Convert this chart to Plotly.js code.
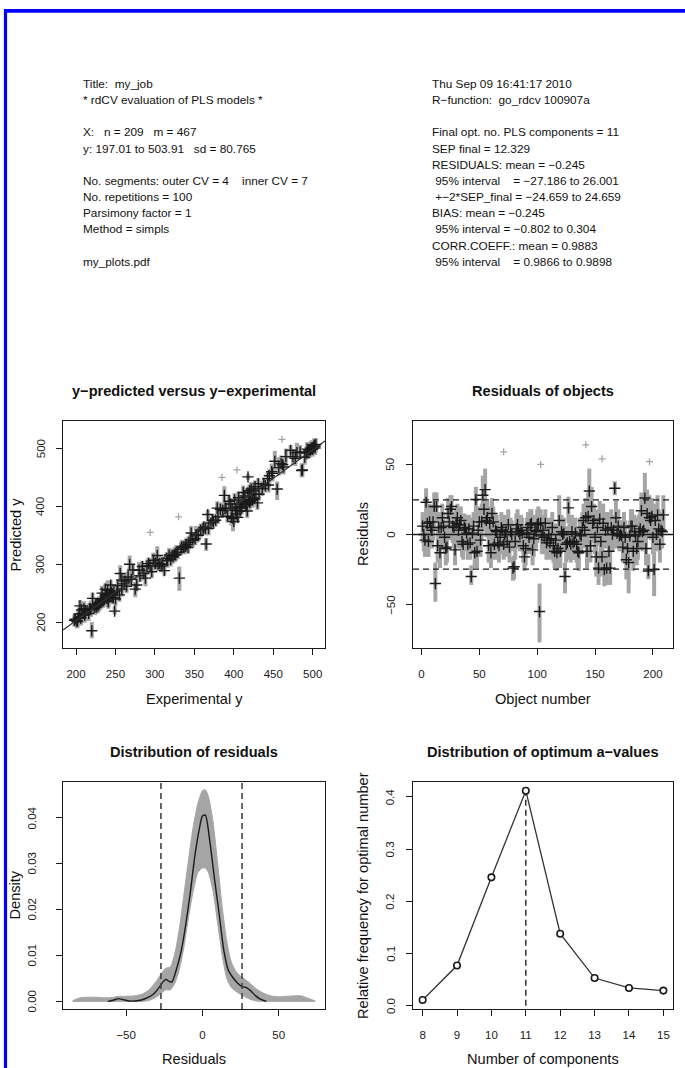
<!DOCTYPE html>
<html><head><meta charset="utf-8">
<script src="https://cdn.plot.ly/plotly-3.0.1.min.js"></script>
<style>html,body{margin:0;padding:0;background:#fff;}#chart{width:685px;height:1068px;}</style>
</head><body><div id="chart"></div>
<script>
// ---------------- text blocks ----------------
const leftLines = ["Title:  my_job", "* rdCV evaluation of PLS models *", "", "X:   n = 209   m = 467", "y: 197.01 to 503.91   sd = 80.765", "", "No. segments: outer CV = 4    inner CV = 7", "No. repetitions = 100", "Parsimony factor = 1", "Method = simpls", "", "my_plots.pdf"];
const rightLines = ["Thu Sep 09 16:41:17 2010", "R\u2212function:  go_rdcv 100907a", "", "Final opt. no. PLS components = 11", "SEP final = 12.329", "RESIDUALS: mean = \u22120.245", " 95% interval    = \u221227.186 to 26.001", " +\u22122*SEP_final = \u221224.659 to 24.659", "BIAS: mean = \u22120.245", " 95% interval = \u22120.802 to 0.304", "CORR.COEFF.: mean = 0.9883", " 95% interval    = 0.9866 to 0.9898"];
const panelTitles = ["y\u2212predicted versus y\u2212experimental", "Residuals of objects", "Distribution of residuals", "Distribution of optimum a\u2212values"];
const xTitles = ["Experimental y", "Object number", "Residuals", "Number of components"];
const yTitles = ["Predicted y", "Residuals", "Density", "Relative frequency for optimal number"];

// ---------------- data ----------------
const sep2 = 24.659;                 // +-2*SEP_final
const resInterval = [-27.186, 26.001]; // 95% interval of residuals

// mean residual of each object (object 1..209)
const resMean = [6,0,-4,23,8,-5,9,5,3,9,
 20,-35,20,-8,5,-13,5,12,6,-2,
 -10,-9,15,9,18,20,6,5,-11,8,
 12,3,7,10,-5,-7,5,4,1,-7,
 4,-6,-30,1,6,-13,25,-12,3,9,
 -4,9,28,18,32,10,12,-8,8,-13,
 15,9,-7,3,2,-6,-8,-2,5,3,
 -7,0,2,-5,7,-9,2,0,-24,-23,
 -5,4,7,2,0,3,1,-8,-16,-10,
 1,5,-2,7,8,-11,-3,3,2,7,
 8,-55,8,-1,3,-2,8,-6,-4,0,
 -6,-3,5,-8,-12,-4,-13,-10,10,-12,
 2,0,1,-30,-7,-6,19,-5,-7,2,
 -6,-5,1,-7,-12,-13,0,-1,5,10,
 3,12,-12,13,31,-8,20,8,10,-2,
 -16,5,-24,11,-5,-16,8,-25,3,-24,
 4,-12,-24,5,0,3,33,12,1,6,
 -1,0,-1,-9,5,-2,-18,-10,-20,-1,
 6,6,-12,2,-1,-10,-5,2,4,17,
 2,3,26,-10,15,-26,12,10,13,-2,
 -25,10,0,14,4,-7,3,2,14];
// highest residual over the repetitions
const resHi = [16,12,8,33,20,8,22,16,14,20,
 30,-20,30,4,16,2,16,22,16,10,
 2,4,26,20,28,28,16,15,2,18,
 22,14,18,20,6,4,15,14,12,5,
 14,6,-22,12,16,0,34,0,14,20,
 6,22,42,30,47,22,24,4,20,0,
 26,20,5,14,14,6,4,10,16,14,
 4,10,14,6,18,3,12,10,-16,-15,
 6,15,18,12,10,14,12,4,-6,2,
 12,16,10,18,18,0,8,14,12,18,
 20,-35,18,10,14,10,18,6,8,12,
 6,8,16,4,0,8,0,2,28,0,
 14,12,12,-20,6,6,27,8,6,14,
 6,8,12,4,0,0,12,12,16,22,
 16,26,2,30,47,6,34,20,22,10,
 -4,18,-12,24,8,-4,22,-12,16,-12,
 16,2,-12,18,12,14,38,24,12,18,
 10,10,10,2,16,10,-6,2,-8,10,
 18,18,0,14,12,2,8,14,16,30,
 16,18,44,4,32,-14,28,24,26,14,
 -12,22,14,28,18,6,16,14,28];
// lowest residual over the repetitions
const resLo = [-6,-12,-16,8,-6,-16,-4,-8,-10,-4,
 6,-48,8,-20,-8,-24,-8,0,-6,-14,
 -22,-20,2,-4,4,8,-6,-8,-22,-4,
 -2,-10,-6,-2,-16,-18,-8,-8,-12,-18,
 -8,-18,-36,-12,-8,-24,10,-24,-10,-4,
 -16,-4,14,4,18,-2,0,-20,-4,-24,
 2,-4,-18,-10,-10,-18,-20,-14,-8,-10,
 -18,-12,-10,-16,-6,-20,-10,-12,-33,-32,
 -18,-8,-6,-10,-12,-10,-12,-20,-26,-22,
 -12,-8,-14,-4,-4,-22,-16,-10,-10,-6,
 -4,-77,-4,-14,-10,-14,-4,-18,-16,-12,
 -18,-16,-8,-20,-24,-16,-26,-22,-4,-24,
 -10,-12,-12,-42,-20,-18,8,-18,-20,-10,
 -18,-18,-10,-20,-24,-26,-12,-14,-8,-2,
 -10,-2,-24,0,16,-20,6,-6,-2,-14,
 -30,-8,-36,-4,-18,-30,-6,-37,-10,-36,
 -8,-24,-36,-8,-12,-10,28,0,-10,-6,
 -12,-10,-12,-20,-6,-14,-32,-22,-42,-12,
 -8,-6,-26,-10,-14,-22,-18,-10,-8,4,
 -12,-10,10,-22,0,-32,-2,-4,0,-14,
 -44,-4,-12,0,-8,-20,-10,-10,2];
// experimental y of each object
const yExp = [214,226,241,205,232,247,262,218,229,238,
 221,220,237,255,203,277,244,284,199,286,
 250,296,258,239,272,244,209,235,308,212,
 266,223,290,253,315,322,243,227,301,336,
 231,241,249,206,217,342,472,320,236,292,
 304,298,256,379,268,401,412,325,346,410,
 394,406,333,246,252,340,339,318,261,212,
 351,202,228,355,390,402,362,371,405,312,
 343,414,420,425,228,234,211,337,408,326,
 358,418,364,427,396,432,345,373,380,386,
 422,331,389,216,242,398,431,368,334,497,
 348,353,225,329,426,440,424,419,457,423,
 501,499,503,365,444,411,367,436,413,496,
 409,404,438,428,415,420,492,500,443,462,
 495,448,416,480,388,407,466,445,484,503,
 397,463,487,475,490,403,449,417,498,486,
 502,421,430,478,494,504,418,383,500,493,
 374,361,377,392,198,264,275,310,399,281,
 232,245,288,230,258,316,306,239,248,233,
 224,219,452,323,240,400,303,280,210,352,
 455,204,201,460,270,327,294,300,207];
// isolated extreme repetitions
const extremeP1x = [294, 330, 385, 404, 461];
const extremeP1y = [355, 382, 450, 463, 516];
const extremeP2obj = [71, 103, 142, 156, 197];
const extremeP2res = [59, 50, 64, 54, 52];

// densities of residuals
const densX =    [-62,-58,-55,-52,-48,-44,-40,-36,-32,-28,-26,-24,-22,-20,-17,-14,-11,-8,-5,-2,0,2,5,8,11,14,17,20,23,26,29,32,35,38,42];
const densMean = [0,0.0003,0.0006,0.0004,0.0001,0.0001,0.0003,0.0008,0.0016,0.0032,0.0042,0.0048,0.0044,0.0042,0.0070,0.0108,0.0165,0.0235,0.0315,0.0375,0.0403,0.0405,0.0345,0.0265,0.0190,0.0112,0.0068,0.0052,0.0040,0.0032,0.0030,0.0022,0.0012,0.0005,0];
const bandX =  [-85,-80,-75,-70,-65,-60,-55,-50,-45,-40,-35,-30,-27,-24,-21,-18,-15,-12,-9,-6,-3,0,2,4,7,10,13,16,19,22,25,28,31,35,40,45,50,55,60,65,70,74];
const bandHi = [0.0002,0.0008,0.0009,0.0009,0.0008,0.0008,0.0011,0.0011,0.0012,0.0015,0.0025,0.0045,0.0060,0.0072,0.0075,0.0105,0.0160,0.0235,0.0310,0.0380,0.0430,0.0458,0.0460,0.0445,0.0390,0.0300,0.0205,0.0130,0.0085,0.0065,0.0055,0.0048,0.0040,0.0028,0.0018,0.0012,0.0010,0.0011,0.0012,0.0012,0.0006,0.0001];
const bandLo = [0,0,0,0,0,0,0,0,0,0,0.0002,0.0010,0.0018,0.0025,0.0025,0.0040,0.0070,0.0120,0.0185,0.0240,0.0280,0.0290,0.0290,0.0280,0.0240,0.0170,0.0100,0.0050,0.0030,0.0022,0.0015,0.0010,0.0005,0.0001,0,0,0,0,0,0,0,0];

// optimum number of components
const nComp = [8,9,10,11,12,13,14,15];
const relFreq = [0.011,0.077,0.246,0.412,0.138,0.053,0.034,0.029];
const optComp = 11;

// tick values
const ticksX = [[200,250,300,350,400,450,500],[0,50,100,150,200],[-50,0,50],nComp];
const ticksY = [[200,300,400,500],[-50,0,50],[0,0.01,0.02,0.03,0.04],[0,0.1,0.2,0.3,0.4]];
const ticksYdec = [0,0,2,1];

// ---------------- derived ----------------
const objNo = resMean.map((_, i) => i + 1);
const yPred = yExp.map((v, i) => v + resMean[i]);
const errPlus = resMean.map((m, i) => Math.max(0, resHi[i] - m));
const errMinus = resMean.map((m, i) => Math.max(0, m - resLo[i]));
const n = yExp.length;
const mx = yExp.reduce((a, b) => a + b, 0) / n, my = yPred.reduce((a, b) => a + b, 0) / n;
let sxy = 0, sxx = 0;
for (let i = 0; i < n; i++) { sxy += (yExp[i] - mx) * (yPred[i] - my); sxx += (yExp[i] - mx) ** 2; }
const slope = sxy / sxx, icpt = my - slope * mx;

// ---------------- layout geometry (pixels) ----------------
const W = 685, H = 1068;
const FONT = "Liberation Sans, Arial, Helvetica, sans-serif";
const boxes = [{l:63,r:325,t:421,b:648},{l:413,r:673,t:421,b:648},{l:63,r:325,t:782,b:1009},{l:413,r:673,t:782,b:1009}];
const px = v => v / W, py = v => 1 - v / H;
const nb = s => s.replace(/ /g, "\u00A0");
const GREY = "#a5a5a5", INK = "#1a1a1a";
const axId = (i, a) => a + (i === 0 ? '' : (i + 1));

const ranges = [
  {x: [183.5, 515.6], y: [155.2, 547.6]},
  {x: [-7.32, 217.32], y: [-81, 81]},
  {x: [-91.4, 80.4], y: [-0.00165, 0.0477]},
  {x: [7.72, 15.28], y: [-0.0063, 0.4287]}
];

function xAx(i) {
  const b = boxes[i];
  return {domain: [px(b.l), px(b.r)], range: ranges[i].x, anchor: axId(i, 'y'),
    showline: true, mirror: true, linecolor: INK, linewidth: 1.2, ticks: 'outside', ticklen: 6, tickwidth: 1, tickcolor: INK,
    tickmode: 'array', tickvals: ticksX[i], showgrid: false, zeroline: false, automargin: false,
    ticklabelstandoff: 9, tickfont: {family: FONT, size: 11.5, color: INK}};
}
function yAx(i) {
  const b = boxes[i];
  return {domain: [py(b.b), py(b.t)], range: ranges[i].y, anchor: axId(i, 'x'),
    showline: true, mirror: true, linecolor: INK, linewidth: 1.2, ticks: 'outside', ticklen: 6, tickwidth: 1, tickcolor: INK,
    tickmode: 'array', tickvals: ticksY[i], showticklabels: false, showgrid: false, zeroline: false, automargin: false};
}

const crossMarker = {symbol: 'cross-thin', size: 8, color: INK, line: {width: 1.4, color: INK}};
const traces = [
  {x: yExp, y: yPred, xaxis: 'x', yaxis: 'y', type: 'scatter', mode: 'markers',
   marker: {size: 1, color: 'rgba(0,0,0,0)'},
   error_y: {type: 'data', symmetric: false, array: errPlus, arrayminus: errMinus, color: GREY, thickness: 4, width: 0}},
  {x: extremeP1x, y: extremeP1y, xaxis: 'x', yaxis: 'y', type: 'scatter', mode: 'markers',
   marker: {symbol: 'cross-thin', size: 5, line: {width: 1.3, color: GREY}}},
  {x: yExp, y: yPred, xaxis: 'x', yaxis: 'y', type: 'scatter', mode: 'markers', marker: crossMarker},
  {x: objNo, y: resMean, xaxis: 'x2', yaxis: 'y2', type: 'scatter', mode: 'markers',
   marker: {size: 1, color: 'rgba(0,0,0,0)'},
   error_y: {type: 'data', symmetric: false, array: errPlus, arrayminus: errMinus, color: GREY, thickness: 4, width: 0}},
  {x: extremeP2obj, y: extremeP2res, xaxis: 'x2', yaxis: 'y2', type: 'scatter', mode: 'markers',
   marker: {symbol: 'cross-thin', size: 5, line: {width: 1.3, color: GREY}}},
  {x: objNo, y: resMean, xaxis: 'x2', yaxis: 'y2', type: 'scatter', mode: 'markers', marker: crossMarker},
  {x: bandX, y: bandLo, xaxis: 'x3', yaxis: 'y3', type: 'scatter', mode: 'lines',
   line: {width: 1, color: GREY, shape: 'spline', smoothing: 0.6}},
  {x: bandX, y: bandHi, xaxis: 'x3', yaxis: 'y3', type: 'scatter', mode: 'lines', fill: 'tonexty',
   fillcolor: GREY, line: {width: 1, color: GREY, shape: 'spline', smoothing: 0.6}},
  {x: densX, y: densMean, xaxis: 'x3', yaxis: 'y3', type: 'scatter', mode: 'lines',
   line: {width: 1.4, color: INK, shape: 'spline', smoothing: 0.6}},
  {x: [optComp, optComp], y: [0, relFreq[nComp.indexOf(optComp)]], xaxis: 'x4', yaxis: 'y4', type: 'scatter', mode: 'lines',
   line: {width: 1.5, color: '#333', dash: '6px,4px'}},
  {x: nComp, y: relFreq, xaxis: 'x4', yaxis: 'y4', type: 'scatter', mode: 'lines+markers',
   line: {width: 1.3, color: '#333'},
   marker: {symbol: 'circle', size: 6.5, color: '#fff', line: {width: 1.6, color: INK}}}
];

const shapes = [
  {type: 'line', xref: 'paper', yref: 'paper', x0: px(4), x1: 1, y0: py(10.8), y1: py(10.8), line: {color: '#0000ff', width: 3.8}},
  {type: 'line', xref: 'paper', yref: 'paper', x0: px(5.5), x1: px(5.5), y0: py(9), y1: 0, line: {color: '#0000ff', width: 3.2}},
  {type: 'line', xref: 'x', yref: 'y', x0: ranges[0].x[0], x1: ranges[0].x[1], y0: icpt + slope * ranges[0].x[0], y1: icpt + slope * ranges[0].x[1],
   line: {color: '#333', width: 1.2}},
  {type: 'line', xref: 'x2 domain', yref: 'y2', x0: 0, x1: 1, y0: 0, y1: 0, line: {color: INK, width: 1.4}},
  {type: 'line', xref: 'x2 domain', yref: 'y2', x0: 0, x1: 1, y0: sep2, y1: sep2, line: {color: INK, width: 1.3, dash: '6px,4px'}},
  {type: 'line', xref: 'x2 domain', yref: 'y2', x0: 0, x1: 1, y0: -sep2, y1: -sep2, line: {color: INK, width: 1.3, dash: '6px,4px'}},
  {type: 'line', xref: 'x3', yref: 'y3 domain', x0: resInterval[0], x1: resInterval[0], y0: 0, y1: 1, line: {color: '#444', width: 1.6, dash: '6px,4px'}},
  {type: 'line', xref: 'x3', yref: 'y3 domain', x0: resInterval[1], x1: resInterval[1], y0: 0, y1: 1, line: {color: '#444', width: 1.6, dash: '6px,4px'}}
];

const ann = [];
const lineY0 = 84, lineStep = 16.15;
leftLines.forEach((t, i) => { if (t) ann.push({xref: 'paper', yref: 'paper', x: px(80.5), y: py(lineY0 + i * lineStep), xanchor: 'left', yanchor: 'middle', showarrow: false, text: nb(t), font: {family: FONT, size: 11.8, color: '#111'}}); });
rightLines.forEach((t, i) => { if (t) ann.push({xref: 'paper', yref: 'paper', x: px(430), y: py(lineY0 + i * lineStep), xanchor: 'left', yanchor: 'middle', showarrow: false, text: nb(t), font: {family: FONT, size: 11.8, color: '#111'}}); });
const titleY = [391, 391, 752, 752];
const xTitleY = [698.5, 698.5, 1059, 1059];
const yTitleX = [15, 362.5, 14, 362.5];
const yTickGap = [22.3, 22.7, 31, 22.7];
boxes.forEach((b, i) => {
  const cx = (b.l + b.r) / 2, cy = (b.t + b.b) / 2;
  ann.push({xref: 'paper', yref: 'paper', x: px(cx), y: py(titleY[i]), xanchor: 'center', yanchor: 'middle', showarrow: false,
    text: '<b>' + panelTitles[i] + '</b>', font: {family: FONT, size: 14.6, color: '#111'}});
  ann.push({xref: 'paper', yref: 'paper', x: px(cx), y: py(xTitleY[i]), xanchor: 'center', yanchor: 'middle', showarrow: false,
    text: xTitles[i], font: {family: FONT, size: 14.6, color: '#111'}});
  ann.push({xref: 'paper', yref: 'paper', x: px(yTitleX[i]), y: py(cy), xanchor: 'center', yanchor: 'middle', showarrow: false, textangle: -90,
    text: yTitles[i], font: {family: FONT, size: 14.6, color: '#111'}});
  ticksY[i].forEach(v => {
    ann.push({xref: 'paper', yref: axId(i, 'y'), x: px(b.l - yTickGap[i]), y: v, xanchor: 'center', yanchor: 'middle', showarrow: false,
      textangle: -90, text: v.toFixed(ticksYdec[i]).replace('-', '\u2212'), font: {family: FONT, size: 11.5, color: INK}});
  });
});

const layout = {
  width: W, height: H, margin: {l: 0, r: 0, t: 0, b: 0}, paper_bgcolor: '#fff', plot_bgcolor: '#fff',
  showlegend: false, hovermode: false, font: {family: FONT, color: INK},
  xaxis: xAx(0), yaxis: yAx(0), xaxis2: xAx(1), yaxis2: yAx(1),
  xaxis3: xAx(2), yaxis3: yAx(2), xaxis4: xAx(3), yaxis4: yAx(3),
  shapes: shapes, annotations: ann
};
Plotly.newPlot('chart', traces, layout, {staticPlot: true, displayModeBar: false});
</script>
</body></html>
